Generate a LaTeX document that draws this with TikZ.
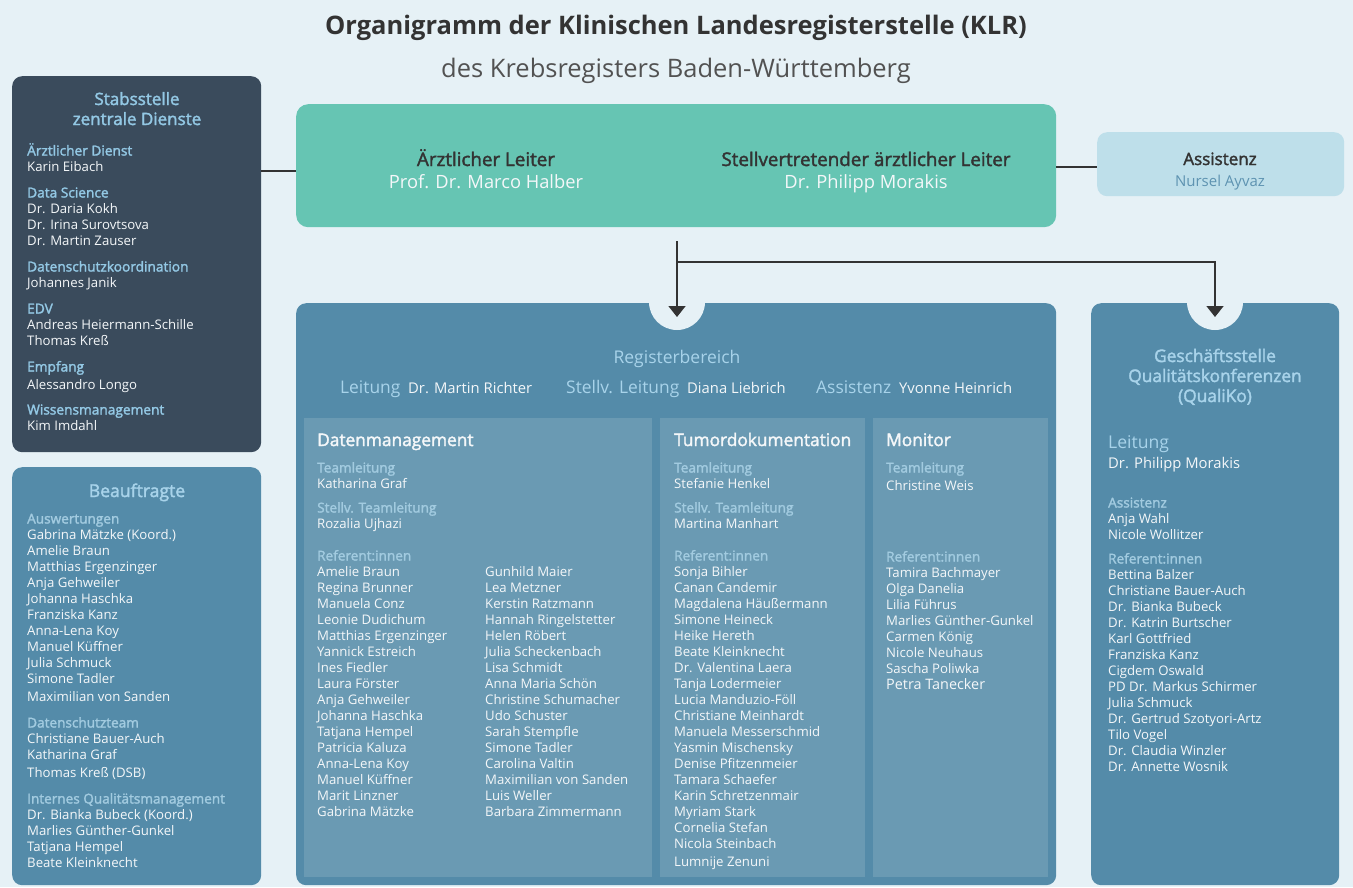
\documentclass[tikz,border=0pt]{standalone}
\usepackage{fontspec}
\setmainfont{Open Sans}
\newfontfamily\semib{Open Sans}[FakeBold=2]
\usetikzlibrary{arrows.meta}
\definecolor{bg}{HTML}{E6F1F6}
\definecolor{darkp}{HTML}{3A4B5C}
\definecolor{steel}{HTML}{548BA9}
\definecolor{innerc}{HTML}{6A9AB3}
\definecolor{tealc}{HTML}{66C5B3}
\definecolor{assistc}{HTML}{BEDFEA}
\definecolor{lbl}{HTML}{93C8E4}
\definecolor{lbltwo}{HTML}{A8D3EA}
\definecolor{subc}{HTML}{A2CBE0}
\definecolor{wht}{HTML}{F4F7F9}
\definecolor{ink}{HTML}{333333}
\definecolor{nurs}{HTML}{5E93B1}
\newcommand\plist[5]{%
  \foreach \t [count=\i from 0] in {#5}
    \node[#4, anchor=base west] (#3\i) at (#1, {#2+16*\i}) {\t};}
\begin{document}
\begin{tikzpicture}[x=1pt,y=-1pt,
  box/.style={rounded corners=10pt, inner sep=0, anchor=north west},
  nm/.style={font=\fontsize{13.2}{15}\selectfont, text=wht, inner sep=0},
  hd/.style={font=\semib\fontsize{13.7}{15}\selectfont, text=lbl, inner sep=0},
  sb/.style={font=\semib\fontsize{13.6}{15}\selectfont, text=subc, inner sep=0},
  coltitle/.style={font=\semib\fontsize{17.3}{19}\selectfont, text=wht, inner sep=0, anchor=base west},
  ln/.style={draw=ink, line width=1.6pt},
  ar/.style={draw=ink, line width=1.6pt, -{Triangle[width=17pt,length=11pt]}}
]
\fill[bg] (0,0) rectangle (1353,887);
\useasboundingbox (0,0) rectangle (1353,887);

% titles
\node[inner sep=0, anchor=base, font=\bfseries\fontsize{25.5}{30}\selectfont, text=ink] (title) at (676,34) {Organigramm der Klinischen Landesregisterstelle (KLR)};
\node[inner sep=0, anchor=base, font=\fontsize{25.5}{30}\selectfont, text=ink!85] (subtitle) at (676,77) {des Krebsregisters Baden-Württemberg};

% boxes
\node[box, fill=darkp, minimum width=249pt, minimum height=376pt] (stab) at (12,76) {};
\node[box, fill=steel, minimum width=249pt, minimum height=418pt] (beauf) at (12,467) {};
\node[box, fill=tealc, rounded corners=12pt, minimum width=760pt, minimum height=123pt] (lead) at (296,104) {};
\node[box, fill=assistc, minimum width=247pt, minimum height=64pt] (assist) at (1097,132) {};
\node[box, fill=steel, minimum width=760pt, minimum height=582pt] (reg) at (296,303) {};
\node[box, fill=steel, minimum width=248pt, minimum height=582pt] (quali) at (1091,303) {};
\node[inner sep=0, anchor=north west, fill=innerc, minimum width=348pt, minimum height=459pt] (dm) at (304,418) {};
\node[inner sep=0, anchor=north west, fill=innerc, minimum width=205pt, minimum height=459pt] (td) at (660,418) {};
\node[inner sep=0, anchor=north west, fill=innerc, minimum width=175pt, minimum height=459pt] (mon) at (873,418) {};

% notches
\fill[bg] (677,302) circle (28);
\fill[bg] (1215,302) circle (28);

% connectors
\coordinate (c1) at (261,171);
\draw[ln] (c1) -- (c1 -| lead.west);
\coordinate (c2) at (1056,167);
\draw[ln] (c2) -- (c2 -| assist.west);
\coordinate (a0) at (677,241);
\coordinate (j) at (677,262);
\coordinate (t1) at (677,317);
\coordinate (t2) at (1215,317);
\draw[ar] (a0) -- (t1);
\draw[ar] (j) -| (t2);

% Stabsstelle
\node[inner sep=0, anchor=base, font=\semib\fontsize{17}{19}\selectfont, text=lbl] (stabt1) at (137,105) {Stabsstelle};
\node[inner sep=0, anchor=base, font=\semib\fontsize{17}{19}\selectfont, text=lbl] (stabt2) at (137,125) {zentrale Dienste};
\plist{27}{155.5}{sh}{hd}{Ärztlicher Dienst}
\plist{27}{171.5}{sn}{nm}{Karin Eibach}
\plist{27}{197.5}{dh}{hd}{Data Science}
\plist{27}{213.5}{dn}{nm}{Dr. Daria Kokh, Dr. Irina Surovtsova, Dr. Martin Zauser}
\plist{27}{271.5}{kh}{hd}{Datenschutzkoordination}
\plist{27}{287.5}{kn}{nm}{Johannes Janik}
\plist{27}{313.5}{eh}{hd}{EDV}
\plist{27}{329.5}{en}{nm}{Andreas Heiermann-Schille, Thomas Kreß}
\plist{27}{371.5}{fh}{hd}{Empfang}
\plist{27}{389.5}{fn}{nm}{Alessandro Longo}
\plist{27}{414.5}{wh}{hd}{Wissensmanagement}
\plist{27}{430.5}{wn}{nm}{Kim Imdahl}

% Beauftragte
\node[inner sep=0, anchor=base, font=\semib\fontsize{17.6}{20}\selectfont, text=lbltwo] (beaut) at (137,497) {Beauftragte};
\plist{27}{523.5}{bah}{sb}{Auswertungen}
\plist{27}{539.5}{ban}{nm}{Gabrina Mätzke (Koord.), Amelie Braun, Matthias Ergenzinger, Anja Gehweiler, Johanna Haschka, Franziska Kanz, Anna-Lena Koy, Manuel Küffner, Julia Schmuck, Simone Tadler}
\plist{27}{701.5}{bam}{nm}{Maximilian von Sanden}
\plist{27}{727.5}{bdh}{sb}{Datenschutzteam}
\plist{27}{743.5}{bdn}{nm}{Christiane Bauer-Auch, Katharina Graf}
\plist{27}{777.5}{bdk}{nm}{Thomas Kreß (DSB)}
\plist{27}{803.5}{bqh}{sb}{Internes Qualitätsmanagement}
\plist{27}{819.5}{bqn}{nm}{Dr. Bianka Bubeck (Koord.), Marlies Günther-Gunkel, Tatjana Hempel, Beate Kleinknecht}

% Leitung
\node[inner sep=0, anchor=base, font=\semib\fontsize{18.8}{21}\selectfont, text=ink] (l1) at (486,166) {Ärztlicher Leiter};
\node[inner sep=0, anchor=base, font=\fontsize{18.3}{21}\selectfont, text=wht] (l1n) at (486,188) {Prof. Dr. Marco Halber};
\node[inner sep=0, anchor=base, font=\semib\fontsize{18.8}{21}\selectfont, text=ink] (l2) at (866,166) {Stellvertretender ärztlicher Leiter};
\node[inner sep=0, anchor=base, font=\fontsize{18.3}{21}\selectfont, text=wht] (l2n) at (866,188) {Dr. Philipp Morakis};
\node[inner sep=0, anchor=base, font=\semib\fontsize{17}{19}\selectfont, text=ink] (as1) at (1220,165) {Assistenz};
\node[inner sep=0, anchor=base, font=\fontsize{15}{17}\selectfont, text=nurs] (as2) at (1220,186) {Nursel Ayvaz};

% Registerbereich
\node[inner sep=0, anchor=base, font=\fontsize{17.5}{20}\selectfont, text=lbltwo] (regt) at (677,363) {Registerbereich};
\node[inner sep=0, anchor=base west, font=\fontsize{17.4}{20}\selectfont, text=lbltwo] (rl1) at (340,393) {Leitung};
\node[inner sep=0, anchor=base west, font=\fontsize{14.8}{18}\selectfont, text=wht] (rl1n) at (408,393) {Dr. Martin Richter};
\node[inner sep=0, anchor=base west, font=\fontsize{17.4}{20}\selectfont, text=lbltwo] (rl2) at (566,393) {Stellv. Leitung};
\node[inner sep=0, anchor=base west, font=\fontsize{14.8}{18}\selectfont, text=wht] (rl2n) at (687,393) {Diana Liebrich};
\node[inner sep=0, anchor=base west, font=\fontsize{17.4}{20}\selectfont, text=lbltwo] (rl3) at (816,393) {Assistenz};
\node[inner sep=0, anchor=base west, font=\fontsize{14.8}{18}\selectfont, text=wht] (rl3n) at (899,393) {Yvonne Heinrich};

% Datenmanagement
\node[coltitle] (dmt) at (317,446) {Datenmanagement};
\plist{317}{472.5}{dmh}{sb}{Teamleitung}
\plist{317}{488.5}{dmn}{nm}{Katharina Graf}
\plist{317}{512.5}{dms}{sb}{Stellv. Teamleitung}
\plist{317}{528.5}{dmsn}{nm}{Rozalia Ujhazi}
\plist{317}{560.5}{dmr}{sb}{Referent:innen}
\plist{317}{576.5}{dma}{nm}{Amelie Braun, Regina Brunner, Manuela Conz, Leonie Dudichum, Matthias Ergenzinger, Yannick Estreich, Ines Fiedler, Laura Förster, Anja Gehweiler, Johanna Haschka, Tatjana Hempel, Patricia Kaluza, Anna-Lena Koy, Manuel Küffner, Marit Linzner, Gabrina Mätzke}
\plist{485}{576.5}{dmb}{nm}{Gunhild Maier, Lea Metzner, Kerstin Ratzmann, Hannah Ringelstetter, Helen Röbert, Julia Scheckenbach, Lisa Schmidt, Anna Maria Schön, Christine Schumacher, Udo Schuster, Sarah Stempfle, Simone Tadler, Carolina Valtin, Maximilian von Sanden, Luis Weller, Barbara Zimmermann}

% Tumordokumentation
\node[coltitle] (tdt) at (674,446) {Tumordokumentation};
\plist{674}{472.5}{tdh}{sb}{Teamleitung}
\plist{674}{488.5}{tdn}{nm}{Stefanie Henkel}
\plist{674}{512.5}{tds}{sb}{Stellv. Teamleitung}
\plist{674}{528.5}{tdsn}{nm}{Martina Manhart}
\plist{674}{560.5}{tdr}{sb}{Referent:innen}
\plist{674}{576.5}{tda}{nm}{Sonja Bihler, Canan Candemir, Magdalena Häußermann, Simone Heineck, Heike Hereth, Beate Kleinknecht, Dr. Valentina Laera, Tanja Lodermeier, Lucia Manduzio-Föll, Christiane Meinhardt, Manuela Messerschmid, Yasmin Mischensky, Denise Pfitzenmeier, Tamara Schaefer, Karin Schretzenmair, Myriam Stark, Cornelia Stefan, Nicola Steinbach}
\plist{674}{866.5}{tdz}{nm}{Lumnije Zenuni}

% Monitor
\node[coltitle] (mont) at (886,446) {Monitor};
\plist{886}{472.5}{moh}{sb}{Teamleitung}
\plist{886}{490.5}{mon}{nm}{Christine Weis}
\plist{886}{561.5}{mor}{sb}{Referent:innen}
\plist{886}{577.5}{moa}{nm}{Tamira Bachmayer, Olga Danelia, Lilia Führus, Marlies Günther-Gunkel, Carmen König, Nicole Neuhaus, Sascha Poliwka}
\node[nm, anchor=base west, font=\fontsize{14.4}{16}\selectfont] (mop) at (886,689.5) {Petra Tanecker};

% QualiKo
\node[inner sep=0, anchor=base, font=\semib\fontsize{17.3}{19}\selectfont, text=lbltwo] (q1) at (1215,362) {Geschäftsstelle};
\node[inner sep=0, anchor=base, font=\semib\fontsize{17.3}{19}\selectfont, text=lbltwo] (q2) at (1215,382) {Qualitätskonferenzen};
\node[inner sep=0, anchor=base, font=\semib\fontsize{17.3}{19}\selectfont, text=lbltwo] (q3) at (1215,402) {(QualiKo)};
\node[inner sep=0, anchor=base west, font=\fontsize{17.6}{20}\selectfont, text=lbltwo] (ql) at (1108,448) {Leitung};
\node[nm, anchor=base west, font=\fontsize{14.8}{16}\selectfont] (qln) at (1108,468) {Dr. Philipp Morakis};
\plist{1108}{507.5}{qah}{sb}{Assistenz}
\plist{1108}{523.5}{qan}{nm}{Anja Wahl, Nicole Wollitzer}
\plist{1108}{563.5}{qrh}{sb}{Referent:innen}
\plist{1108}{579.5}{qrn}{nm}{Bettina Balzer, Christiane Bauer-Auch, Dr. Bianka Bubeck, Dr. Katrin Burtscher, Karl Gottfried, Franziska Kanz, Cigdem Oswald, PD Dr. Markus Schirmer, Julia Schmuck, Dr. Gertrud Szotyori-Artz, Tilo Vogel, Dr. Claudia Winzler, Dr. Annette Wosnik}
\end{tikzpicture}
\end{document}
